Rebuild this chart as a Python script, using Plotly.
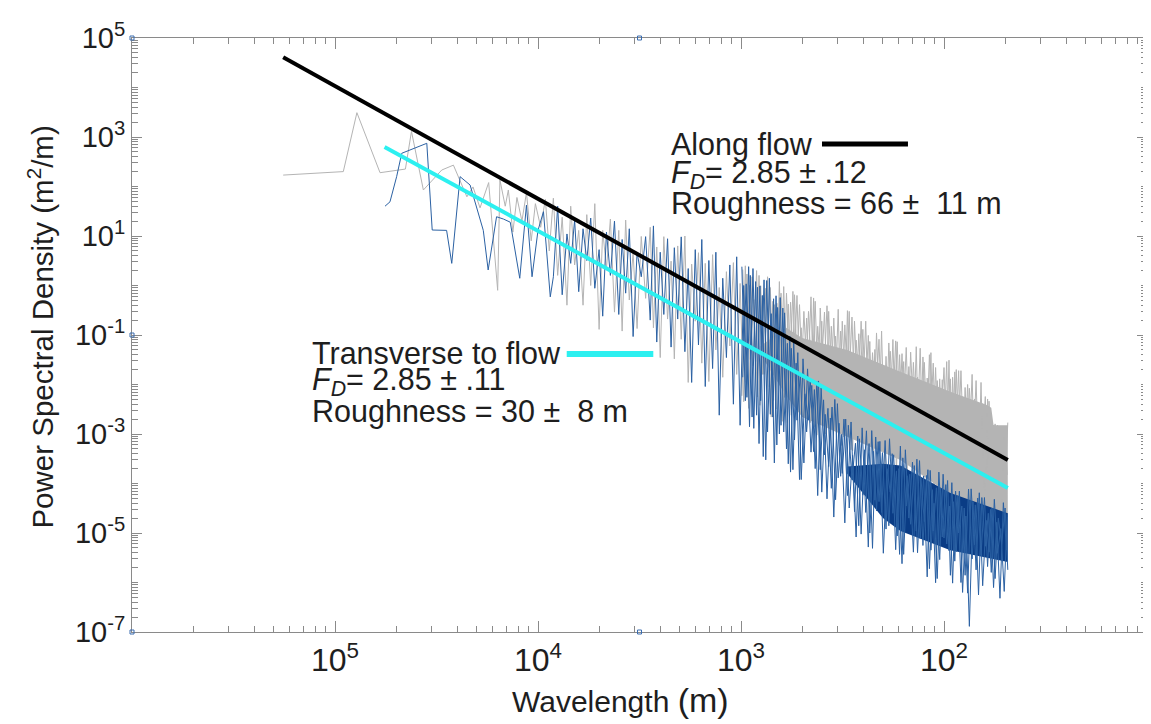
import plotly.graph_objects as go

# ---------------- data ----------------
# Along-flow spectrum (grey), sparse long-wavelength part
along_wavelength_sparse = [1.8e5, 9.1e4, 7.8e4, 6.0e4, 4.5e4, 4.2e4, 3.67e4, 3.3e4, 2.98e4, 2.61e4,
                           2.24e4, 2.09e4, 1.93e4, 1.75e4, 1.58e4, 1.54e4, 1.45e4, 1.4e4, 1.33e4, 1.27e4,
                           1.2e4, 1.14e4, 1.08e4, 1.03e4, 9.7e3, 9.2e3, 8.8e3]
along_psd_sparse = [170, 200, 3100, 190, 225, 1300, 85, 135, 215, 270,
                    62, 98, 37, 120, 0.8, 135, 40, 85, 12, 60,
                    20, 75, 8, 45, 15, 55, 5]

# Transverse-to-flow spectrum (blue), sparse long-wavelength part
transverse_wavelength_sparse = [5.67e4, 5.36e4, 4.97e4, 4.69e4, 3.53e4, 3.32e4, 2.82e4, 2.66e4, 2.42e4, 2.16e4,
                                1.86e4, 1.76e4, 1.6e4, 1.48e4, 1.37e4, 1.23e4, 1.14e4, 1.07e4, 1.0e4, 9.4e3, 8.7e3]
transverse_psd_sparse = [40, 49, 158, 469, 746, 13.2, 13, 2.8, 158, 107,
                         13, 2.06, 24.5, 22, 19, 1.4, 42, 1.5, 13, 31, 0.59]

# Shorter wavelengths (dense part), shared wavelength samples
wavelength_dense = [8400, 8000, 7600, 7200, 6900, 6600, 6300, 6000, 5750, 5500, 5250, 5000, 4800, 4600, 4400,
                    4200, 4000, 3850, 3700, 3550, 3400, 3250, 3100, 2950,
                    2800, 2700, 2600, 2500, 2400, 2300, 2210, 2130, 2050, 1970, 1890, 1820, 1750, 1680, 1620,
                    1560, 1500, 1440, 1380, 1330, 1280, 1230, 1180, 1135, 1090, 1050, 1010,
                    970, 935, 900, 865, 830, 800, 770, 740, 710, 685, 660, 635, 610, 585, 565, 545, 525, 505,
                    485, 465, 448, 431, 415, 400, 385, 370, 356, 342, 329, 317, 305, 293, 282, 271, 261, 251,
                    241, 232, 223, 215, 207,
                    199, 191, 184, 177, 170, 164, 158, 152, 146, 140, 135, 130, 125, 120, 116, 112, 108, 104, 100,
                    96, 93, 90, 87, 84, 81, 78, 75, 72, 69.5, 67, 64.5, 62, 60, 58, 56, 54, 52, 50, 48.5]
along_psd_dense = [5.8e1, 1.6, 2.4e1, 0.40, 4.0e1, 2.6, 1.3e1, 0.40, 2.7e1, 1.0, 4.5e1, 0.13, 1.3e1, 2.2, 2.2e1,
                   0.29, 1.3e1, 0.12, 2.1e1, 0.51, 4.6, 0.135, 9.8, 0.55,
                   1.5e1, 0.14, 6.0, 0.035, 9.7, 0.21, 3.1, 0.033, 6.3, 0.082, 10, 0.011, 2.7, 0.19, 4.6,
                   0.027, 2.8, 0.0115, 4.2, 0.05, 0.91, 0.014, 1.9, 0.06, 2.9, 0.016, 1.1,
                   0.0045, 1.7, 0.032, 0.52, 0.0056, 0.99, 0.016, 1.5, 0.0022, 0.41, 0.039, 0.70, 0.0055, 0.42,
                   0.0024, 0.65, 0.011, 0.14,
                   0.003, 0.30, 0.013, 0.48, 0.0037, 0.19, 0.001, 0.30, 0.007, 0.095, 0.0012, 0.19, 0.0034, 0.30,
                   4.6e-4, 0.079, 0.0079, 0.13, 0.001, 0.074, 4.5e-4, 0.11, 0.0019,
                   0.022, 5.1e-4, 0.047, 0.0022, 0.073, 5.9e-4, 0.029, 1.6e-4, 0.045, 0.0011, 0.014, 1.8e-4,
                   0.028, 4.8e-4, 0.044, 6.5e-5, 0.012, 0.0011, 0.022,
                   1.5e-4, 0.013, 6.7e-5, 0.02, 3.0e-4, 0.0041, 8.3e-5, 0.0084, 3.6e-4, 0.012, 1.0e-4, 0.0041,
                   2.8e-5, 0.0046, 2.0e-4, 1.6e-3, 3.5e-5, 9.8e-4, 9.7e-5, 1.7e-3]
transverse_psd_dense = [1.5, 4.0e1, 0.65, 1.1e1, 2.8, 2.1e1, 0.75, 1.4e1, 3.2, 2.3e1, 0.88, 5.3, 0.24, 1.2e1, 1.6,
                        2.0e1, 0.26, 8.5, 0.70, 1.4e1, 0.093, 4.7, 1.5, 9.7,
                        0.20, 1.6e1, 0.072, 4.7, 0.26, 8.8, 0.057, 5.8, 0.21, 9.6, 0.046, 2.2, 0.011, 5.3, 0.063,
                        8.5, 0.0091, 3.2, 0.021, 4.7, 0.0024, 1.4, 0.035, 2.6, 0.004, 3.8, 0.0015,
                        1.0, 0.0055, 1.6, 0.0013, 0.92, 0.0047, 1.3, 0.0011, 0.27, 2.6e-4, 0.36, 0.0015, 0.28,
                        2.5e-4, 0.054, 7.6e-4, 0.044, 1.2e-4,
                        0.0065, 0.0019, 0.0096, 2.0e-4, 0.0118, 6.7e-5, 0.0025, 2.2e-4, 0.0035, 4.7e-5, 0.00165,
                        1.6e-4, 0.0020, 3.2e-5, 3.7e-4, 8.3e-6, 8.0e-4, 5.8e-5, 1.16e-3, 1.0e-5, 4.5e-4, 2.8e-5,
                        7.1e-4, 3.9e-6,
                        2.0e-4, 6.7e-5, 3.8e-4, 8.7e-6, 5.7e-4, 3.7e-6, 1.44e-4, 1.5e-5, 2.3e-4, 4.0e-6,
                        1.35e-4, 1.7e-5, 1.9e-4, 4.5e-6, 4.0e-5, 1.2e-6, 8.0e-5, 7.9e-6,
                        1.15e-4, 1.4e-6, 4.3e-5, 4.2e-6, 7.0e-5, 6.3e-7, 2.2e-5, 1.3e-7, 4.3e-5, 1.8e-6, 6.5e-5,
                        8.6e-7, 1.8e-5, 4.1e-6, 3.2e-5, 1.2e-6, 2.0e-5, 5.9e-6, 3.2e-5, 1.8e-6]

# Interleaved samples in the saturated short-wavelength part (second set)
wavelength_dense_b = [990, 952, 917, 882, 847, 815, 785, 755, 725, 697,
                      672, 647, 622, 597, 575, 555, 535, 515, 495, 475,
                      456, 439, 423, 407, 392, 377, 363, 349, 335, 323,
                      311, 299, 287, 276, 266, 256, 246, 236, 227, 219,
                      211, 203, 195, 187, 180, 173, 167, 161, 155, 149,
                      143, 137, 132, 127, 122, 118, 114, 110, 106, 102,
                      98, 94.5, 91.5, 88.5, 85.5, 82.5, 79.5, 76.5, 73.5, 70.7,
                      68.2, 65.7, 63.2, 61, 59, 57, 55, 53, 51, 49.2]
along_psd_dense_b = [5.9e-3, 2.5, 3.3e-3, 1.5, 0.029, 1.6, 0.016, 0.88, 9.0e-3, 0.48,
                     3.2e-3, 1.2, 1.8e-3, 0.70, 0.016, 0.76, 8.9e-3, 0.41, 5.0e-3, 0.22,
                     1.7e-3, 0.56, 9.5e-4, 0.35, 8.3e-3, 0.39, 4.6e-3, 0.22, 2.5e-3, 0.12,
                     8.7e-4, 0.31, 4.8e-4, 0.19, 4.1e-3, 0.19, 2.2e-3, 0.098, 1.2e-3, 0.051,
                     4.0e-4, 0.12, 2.1e-4, 0.069, 1.8e-3, 0.076, 9.7e-4, 0.042, 5.2e-4, 0.023,
                     1.7e-4, 0.058, 9.4e-5, 0.036, 7.9e-4, 0.04, 4.3e-4, 0.022, 2.3e-4, 0.0125,
                     7.8e-5, 0.031, 4.3e-5, 0.018, 3.9e-4, 0.019, 2.1e-4, 0.01, 1.2e-4, 5.1e-3,
                     4.1e-5, 0.011, 2.3e-5, 5.1e-3, 2.0e-4, 1.5e-3, 1.1e-4, 9.8e-4, 6.3e-5, 6.2e-4]
transverse_psd_dense_b = [2.4, 4.7e-3, 2.4, 2.2e-3, 1.2, 6.4e-4, 0.63, 3.0e-4, 1.4, 2.2e-3,
                          0.62, 1.0e-3, 0.35, 5.0e-4, 0.095, 1.9e-4, 0.027, 1.2e-4, 0.033, 1.1e-3,
                          0.0133, 4.4e-4, 0.0115, 1.9e-4, 0.0049, 4.9e-5, 0.0021, 2.1e-5, 0.0041, 1.4e-4,
                          0.0020, 5.7e-5, 0.00175, 2.7e-5, 9.1e-4, 9.5e-6, 4.8e-4, 5.2e-6, 1.17e-3, 4.6e-5,
                          7.0e-4, 2.6e-5, 7.4e-4, 1.4e-5, 4.0e-4, 4.6e-6, 2.0e-4, 2.4e-6, 4.8e-4, 2.0e-5,
                          2.7e-4, 1.1e-5, 2.9e-4, 5.6e-6, 1.45e-4, 1.9e-6, 7.5e-5, 9.9e-7, 1.7e-4, 8.3e-6,
                          9.5e-5, 4.4e-6, 1.04e-4, 2.7e-6, 5.7e-5, 1.0e-6, 3.2e-5, 6.1e-7, 7.8e-5, 5.8e-6,
                          5.1e-5, 3.5e-6, 5.2e-5, 2.1e-6, 3.0e-5, 7.9e-7, 1.65e-5, 4.8e-7, 4.1e-5, 4.5e-6]

# Third interleaved set
wavelength_dense_c = [980, 943, 908, 873, 838, 807, 777, 747, 717, 691,
                      666, 641, 616, 591, 570, 550, 530, 510, 490, 470,
                      452, 435, 419, 403, 388, 373, 359, 345, 332, 320,
                      308, 296, 284, 273, 263, 253, 243, 234, 225, 217,
                      209, 201, 193, 185.5, 178.5, 171.5, 165.5, 159.5, 153.5, 147.5,
                      141.5, 136, 131, 126, 121, 117, 113, 109, 105, 101,
                      97, 93.7, 90.7, 87.7, 84.7, 81.7, 78.7, 75.7, 72.7, 70.1,
                      67.6, 65.1, 62.6, 60.5, 58.5, 56.5, 54.5, 52.5, 50.5, 48.8]
along_psd_dense_c = [2.1, 0.011, 1.0, 0.024, 2.0, 3.8e-3, 0.48, 0.038, 0.91, 4.8e-3,
                     0.44, 9.5e-3, 0.95, 1.7e-3, 0.46, 0.015, 0.63, 4.2e-3, 0.30, 9.2e-3,
                     0.59, 1.4e-3, 0.15, 0.014, 0.29, 1.7e-3, 0.15, 3.4e-3, 0.33, 5.9e-4,
                     0.16, 5.2e-3, 0.23, 1.4e-3, 0.106, 3.0e-3, 0.19, 4.5e-4, 0.044, 4.3e-3,
                     0.082, 5.2e-4, 0.037, 9.8e-4, 0.081, 1.7e-4, 0.04, 1.4e-3, 0.056, 3.8e-4,
                     0.028, 8.0e-4, 0.054, 1.2e-4, 0.0135, 1.2e-3, 0.027, 1.4e-4, 0.013, 2.7e-4,
                     0.029, 4.6e-5, 0.014, 4.1e-4, 0.019, 1.15e-4, 8.7e-3, 2.5e-4, 0.016, 3.9e-5,
                     3.7e-3, 3.9e-4, 5.7e-3, 4.8e-5, 1.7e-3, 9.6e-5, 1.5e-3, 1.7e-5, 8.7e-4, 1.5e-4]
transverse_psd_dense_c = [0.014, 1.08, 1.4e-3, 2.2, 2.4e-3, 0.98, 3.5e-4, 1.26, 2.5e-3, 0.54,
                          6.0e-4, 0.57, 1.1e-3, 0.068, 1.7e-4, 0.07, 1.9e-3, 0.0168, 2.6e-4, 0.0207,
                          4.3e-4, 0.0079, 5.7e-5, 0.0085, 3.8e-4, 0.0033, 8.0e-5, 0.0050, 1.3e-4, 9.8e-4,
                          1.6e-5, 1.5e-3, 1.2e-4, 6.5e-4, 1.4e-5, 1.33e-3, 2.6e-5, 6.4e-4, 4.9e-6, 8.7e-4,
                          4.3e-5, 4.2e-4, 1.2e-5, 8.0e-4, 2.5e-5, 1.8e-4, 3.7e-6, 3.3e-4, 3.5e-5, 1.54e-4,
                          4.1e-6, 3.1e-4, 7.7e-6, 1.42e-4, 1.3e-6, 1.84e-4, 1.1e-5, 8.2e-5, 2.9e-6, 1.54e-4,
                          6.0e-6, 3.5e-5, 9.7e-7, 7.0e-5, 1.0e-5, 3.5e-5, 1.4e-6, 7.7e-5, 3.0e-6, 3.7e-5,
                          5.6e-7, 5.2e-5, 5.4e-6, 2.5e-5, 1.6e-6, 4.8e-5, 3.9e-6, 1.23e-5, 6.6e-7, 2.4e-5]

# Solid cores of the dense spectra (upper / lower edges of the saturated band)
along_band_wavelength = [800, 600, 500, 300, 164, 93, 62, 58.5, 57, 48.5]
along_band_top = [0.06, 0.14, 0.087, 0.05, 0.018, 0.0071, 0.0039, 0.0034, 0.0015, 0.0015]
along_band_bottom = [0.04, 0.006, 0.0022, 8.7e-4, 3.0e-4, 5.9e-5, 2.5e-5, 2.4e-5, 2.3e-5, 2.1e-5]
transverse_band_wavelength = [300, 200, 164, 93, 48.5]
transverse_band_top = [2.2e-4, 2.5e-4, 2.3e-4, 6.4e-5, 2.5e-5]
transverse_band_bottom = [1.6e-4, 2.0e-5, 1.1e-5, 4.5e-6, 2.6e-6]

# Power-law fits
along_fit_wavelength = [1.8e5, 48.5]
along_fit_psd = [4.1e4, 3.0e-4]
transverse_fit_wavelength = [5.7e4, 48.5]
transverse_fit_psd = [630, 8.1e-5]

# Axis tick labels
x_tick_values = [1e5, 1e4, 1e3, 1e2]
x_tick_text = ["10<sup>5</sup>", "10<sup>4</sup>", "10<sup>3</sup>", "10<sup>2</sup>"]
y_tick_values = [1e5, 1e3, 1e1, 1e-1, 1e-3, 1e-5, 1e-7]
y_tick_text = ["10<sup>5</sup>", "10<sup>3</sup>", "10<sup>1</sup>", "10<sup>-1</sup>",
               "10<sup>-3</sup>", "10<sup>-5</sup>", "10<sup>-7</sup>"]

# ---------------- styles ----------------
FONT = "Liberation Sans, Arial, Helvetica, sans-serif"
TEXT = "#1e1e1e"
GREY = "#b4b4b4"
BLUE_LINE = "#2b61a3"
BLUE_FILL = "#0a3c85"
AXIS = "#8a8a8a"

fig = go.Figure()

def line(x, y, color, width=1):
    fig.add_trace(go.Scatter(x=x, y=y, mode="lines", line=dict(color=color, width=width),
                             showlegend=False))

def band(wl, top, bottom, color):
    fig.add_trace(go.Scatter(x=wl + wl[::-1], y=top + bottom[::-1], fill="toself",
                             fillcolor=color, line=dict(width=0), mode="lines",
                             hoverinfo="skip", showlegend=False))

# grey spectrum (along flow)
band(along_band_wavelength, along_band_top, along_band_bottom, GREY)
line(along_wavelength_sparse + wavelength_dense, along_psd_sparse + along_psd_dense, GREY)
line(wavelength_dense_b, along_psd_dense_b, GREY)
line(wavelength_dense_c, along_psd_dense_c, GREY)

# blue spectrum (transverse)
band(transverse_band_wavelength, transverse_band_top, transverse_band_bottom, BLUE_FILL)
line(transverse_wavelength_sparse + wavelength_dense, transverse_psd_sparse + transverse_psd_dense, BLUE_LINE)
line(wavelength_dense_b, transverse_psd_dense_b, BLUE_LINE)
line(wavelength_dense_c, transverse_psd_dense_c, BLUE_LINE)

# fits
line(along_fit_wavelength, along_fit_psd, "black", 4)
line(transverse_fit_wavelength, transverse_fit_psd, "#2cf0f0", 4)

x_minor = [10 ** k / n for k in range(2, 7) for n in range(2, 10)]
y_minor = [n * 10.0 ** k for k in range(-7, 5) for n in range(1, 10)]

# page body has an 8px margin: shrink the figure so the plot frame lands at 132..1147 x 38..632
fig.update_layout(
    width=1143, height=716,
    margin=dict(l=124, r=4, t=30, b=92),
    paper_bgcolor="white", plot_bgcolor="white",
    font=dict(family=FONT, color=TEXT),
    xaxis=dict(
        type="log", range=[6, 1], showgrid=False, zeroline=False,
        showline=True, linecolor=AXIS, linewidth=1, mirror="allticks",
        ticks="inside", ticklen=11, tickcolor=AXIS, tickwidth=1,
        tickmode="array", tickvals=x_tick_values, ticktext=x_tick_text,
        tickfont=dict(size=32, family=FONT, color=TEXT),
        minor=dict(tickmode="array", tickvals=x_minor, ticks="inside", ticklen=6,
                   tickcolor=AXIS, tickwidth=1, showgrid=False),
    ),
    yaxis=dict(
        type="log", range=[-7, 5], showgrid=False, zeroline=False,
        showline=True, linecolor=AXIS, linewidth=1, mirror="allticks",
        ticks="inside", ticklen=10, tickcolor=AXIS, tickwidth=1,
        tickmode="array", tickvals=y_tick_values, ticktext=y_tick_text,
        tickfont=dict(size=29, family=FONT, color=TEXT),
        minor=dict(tickmode="array", tickvals=y_minor, ticks="inside", ticklen=6,
                   tickcolor=AXIS, tickwidth=1, showgrid=False),
    ),
)

ann = []
def text(x, y, s, size=30.5, anchor="left", angle=0):
    ann.append(dict(x=x, y=y, xref="paper", yref="paper", text=s, showarrow=False,
                    xanchor=anchor, yanchor="middle", textangle=angle,
                    font=dict(size=size, family=FONT, color=TEXT)))

text(0.5291, 0.8199, "Along flow")
text(0.5291, 0.7694, "<i>F</i><sub><i>D</i></sub>= 2.85 ± .12")
text(0.5291, 0.7222, "Roughness = 66 ±\u00a0\u00a011 m")
text(0.1754, 0.4697, "Transverse to flow")
text(0.1754, 0.4209, "<i>F</i><sub><i>D</i></sub>= 2.85 ± .11")
text(0.1754, 0.3704, "Roughness = 30 ±\u00a0\u00a08 m")
text(-0.0906, 0.5126, "Power Spectral Density (m<sup>2</sup>/m)", size=29.5, anchor="center", angle=-90)
text(0.4808, -0.1145, "Wavelength <span style='font-size:34px'>(m)</span>", size=30, anchor="center")
fig.update_layout(annotations=ann)

shapes = [
    dict(type="line", xref="paper", yref="paper", x0=0.6798, x1=0.7645, y0=0.8215, y1=0.8215,
         line=dict(color="black", width=5)),
    dict(type="line", xref="paper", yref="paper", x0=0.4283, x1=0.5136, y0=0.468, y1=0.468,
         line=dict(color="#2cf0f0", width=6)),
]
for hx in (0, 0.5, 1):
    for hy in (0, 0.5, 1):
        if hx == 0.5 and hy == 0.5:
            continue
        shapes.append(dict(type="rect", xref="paper", yref="paper",
                           xsizemode="pixel", ysizemode="pixel",
                           xanchor=hx, yanchor=hy, x0=-2, x1=2, y0=-2, y1=2,
                           line=dict(color="#3a6db0", width=1), fillcolor="rgba(0,0,0,0)"))
fig.update_layout(shapes=shapes)

fig.write_html("out.html")
